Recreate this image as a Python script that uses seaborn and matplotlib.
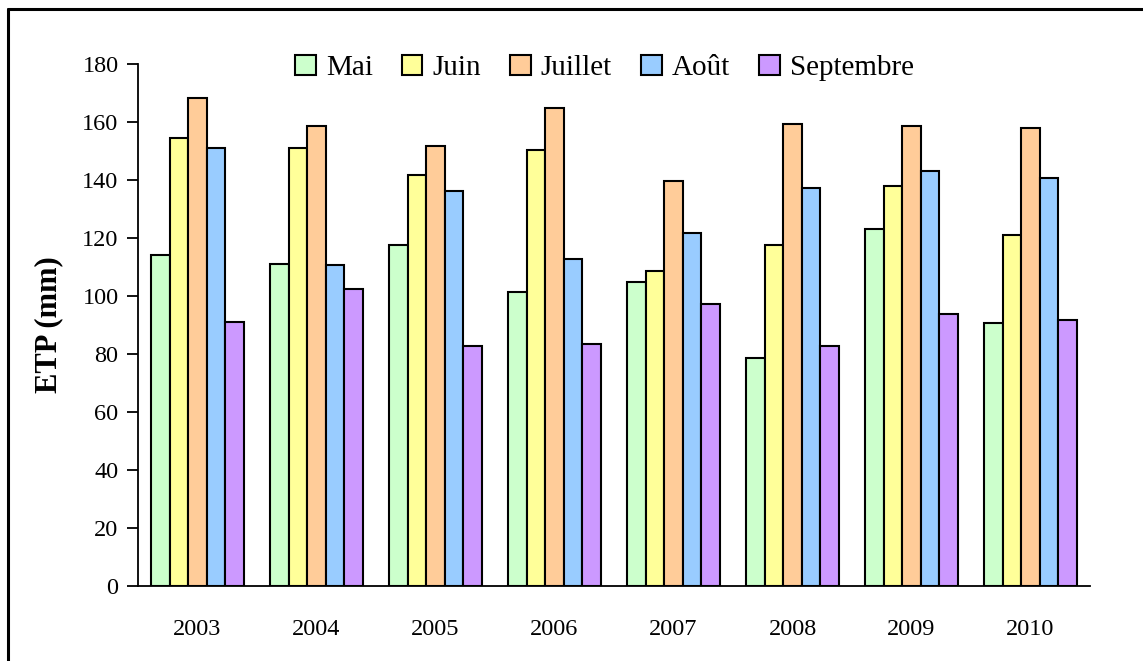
import matplotlib
matplotlib.use("Agg")
import matplotlib.pyplot as plt
import matplotlib.lines as mlines
import seaborn as sns
import pandas as pd
import numpy as np

years = ["2003", "2004", "2005", "2006", "2007", "2008", "2009", "2010"]
months = ["Mai", "Juin", "Juillet", "Août", "Septembre"]
mai = [114.1, 111.0, 117.6, 101.4, 104.8, 78.6, 123.1, 90.7]
juin = [154.5, 151.0, 141.7, 150.3, 108.6, 117.6, 137.9, 121.0]
juillet = [168.3, 158.6, 151.7, 164.8, 139.7, 159.3, 158.6, 157.9]
aout = [151.0, 110.7, 136.2, 112.8, 121.7, 137.2, 143.1, 140.7]
septembre = [91.0, 102.4, 82.8, 83.4, 97.2, 82.8, 93.8, 91.7]
colors = ["#CCFFCC", "#FFFF99", "#FFCC99", "#99CCFF", "#CC99FF"]
yticks = [0, 20, 40, 60, 80, 100, 120, 140, 160, 180]

series = [mai, juin, juillet, aout, septembre]
rows = []
for m, vals in zip(months, series):
    for y, v in zip(years, vals):
        rows.append({"Année": y, "Mois": m, "ETP": v})
df = pd.DataFrame(rows)

sns.set_theme(style="white")
plt.rcParams["font.family"] = ["Liberation Serif", "DejaVu Serif"]
plt.rcParams["text.color"] = "black"
plt.rcParams["axes.labelcolor"] = "black"
plt.rcParams["xtick.color"] = "black"
plt.rcParams["ytick.color"] = "black"

fig = plt.figure(figsize=(11.43, 6.61), dpi=100)
ax = fig.add_axes([138 / 1143, 1 - 586 / 661, (1090 - 138) / 1143, (586 - 64) / 661])

sns.barplot(data=df, x="Année", y="ETP", hue="Mois", order=years, hue_order=months,
            palette=colors, saturation=1, width=0.78, edgecolor="black",
            linewidth=1.5, ax=ax)

ax.set_xlim(-0.5, len(years) - 0.5)
ax.set_ylim(0, 180)
ax.set_yticks(yticks)
ax.set_yticklabels([str(t) for t in yticks], fontsize=17.5, color="black")
ax.set_xticks(range(len(years)))
ax.set_xticklabels(years, fontsize=17.5, color="black")
ax.set_xticks(np.arange(-0.5, len(years), 1.0), minor=True)
ax.tick_params(axis="x", which="major", length=0, pad=24)
ax.tick_params(axis="x", which="minor", length=9, width=1.3, direction="out", color="black")
ax.tick_params(axis="y", which="major", length=8, width=1.3, direction="out", color="black", pad=6, left=True)
for s in ["top", "right"]:
    ax.spines[s].set_visible(False)
for s in ["left", "bottom"]:
    ax.spines[s].set_color("black")
    ax.spines[s].set_linewidth(1.3)

ax.set_xlabel("")
ax.set_ylabel("ETP (mm)", fontsize=22, fontweight="bold", labelpad=14, color="black")

handles, labels = ax.get_legend_handles_labels()
leg = ax.legend(handles, labels, loc="center", bbox_to_anchor=(0.49, 0.992), ncol=5,
                frameon=False, fontsize=21, handlelength=0.7, handleheight=0.7,
                handletextpad=0.35, columnspacing=1.0, borderaxespad=0)
for t in leg.get_texts():
    t.set_color("black")

# outer frame (top and left visible)
fig.add_artist(mlines.Line2D([8 / 1143, 8 / 1143], [0, 1 - 9 / 661], color="black", linewidth=2.2,
                             transform=fig.transFigure))
fig.add_artist(mlines.Line2D([8 / 1143, 1], [1 - 9 / 661, 1 - 9 / 661], color="black", linewidth=2.2,
                             transform=fig.transFigure))

fig.savefig("out.png", dpi=100, facecolor="white")
